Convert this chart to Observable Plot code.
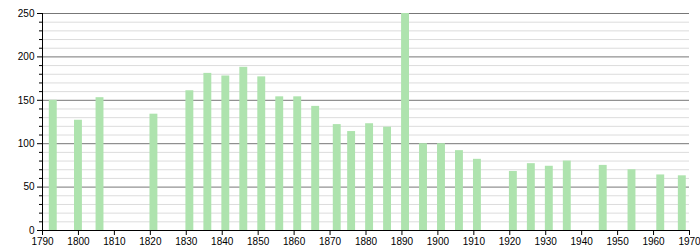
<!DOCTYPE html>
<html>
<head>
<meta charset="utf-8">
<script src="https://cdn.jsdelivr.net/npm/d3@7"></script>
<script src="https://cdn.jsdelivr.net/npm/@observablehq/plot@0.6"></script>
<style>
  html, body { margin: 0; padding: 0; background: #fff; }
  svg { font-family: "Liberation Sans", Arial, sans-serif; }
</style>
</head>
<body>
<div id="chart"></div>
<script>
const years = [1793, 1800, 1806, 1821, 1831, 1836, 1841, 1846, 1851, 1856, 1861, 1866, 1872, 1876, 1881, 1886, 1891, 1896, 1901, 1906, 1911, 1921, 1926, 1931, 1936, 1946, 1954, 1962, 1968];
const population = [150, 127, 153, 134, 161, 181, 178, 188, 177, 154, 154, 143, 122, 114, 123, 119, 250, 100, 100, 92, 82, 68, 77, 74, 80, 75, 70, 64, 63];
const xTicks = [1790, 1800, 1810, 1820, 1830, 1840, 1850, 1860, 1870, 1880, 1890, 1900, 1910, 1920, 1930, 1940, 1950, 1960, 1970];
const yMajor = [0, 50, 100, 150, 200, 250];
const yMinor = d3.range(0, 251, 10).filter(v => v % 50 !== 0);

const data = years.map((y, i) => ({year: y, value: population[i]}));

const chart = Plot.plot({
  width: 700,
  height: 250,
  marginLeft: 42,
  marginRight: 11,
  marginTop: 13,
  marginBottom: 20,
  style: {fontSize: "10px", fontFamily: "'Liberation Sans', Arial, sans-serif", color: "#000"},
  x: {domain: [1790, 1970], label: null},
  y: {domain: [0, 250], label: null},
  marks: [
    Plot.ruleY(yMinor, {stroke: "#dcdcdc", strokeWidth: 1}),
    Plot.ruleY(yMajor.filter(v => v > 0), {stroke: "#777", strokeWidth: 1}),
    Plot.rectY(data, {x1: d => d.year - 1.1, x2: d => d.year + 1.1, y1: 0, y2: "value", fill: "#aee3ae"}),
    Plot.axisY(yMinor, {tickSize: 3, text: null, label: null, stroke: "#000"}),
    Plot.axisY(yMajor, {tickSize: 5, tickPadding: 3, label: null, stroke: "#000"}),
    Plot.axisX(xTicks, {tickSize: 5, tickPadding: 2, tickFormat: d => String(d), label: null, stroke: "#000"}),
    Plot.ruleX([1790], {stroke: "#000"}),
    Plot.ruleY([0], {stroke: "#000"})
  ]
});
document.getElementById("chart").appendChild(chart);
</script>
</body>
</html>
